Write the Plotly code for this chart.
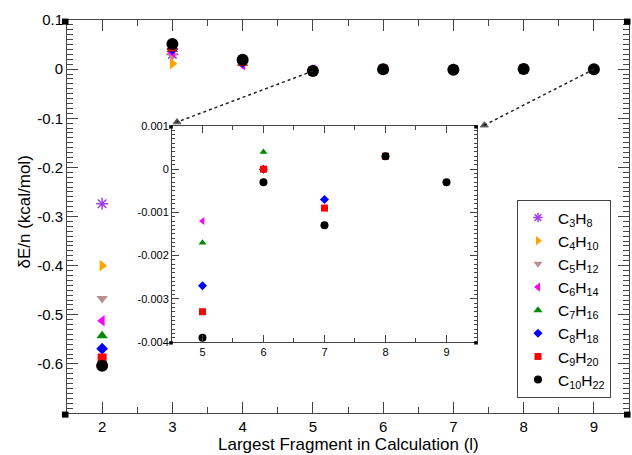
import plotly.graph_objects as go

# ---------------- data ----------------
series_names = ["C<sub>3</sub>H<sub>8</sub>", "C<sub>4</sub>H<sub>10</sub>", "C<sub>5</sub>H<sub>12</sub>",
                "C<sub>6</sub>H<sub>14</sub>", "C<sub>7</sub>H<sub>16</sub>", "C<sub>8</sub>H<sub>18</sub>",
                "C<sub>9</sub>H<sub>20</sub>", "C<sub>10</sub>H<sub>22</sub>"]

x_C3H8 = [2, 3]
y_C3H8 = [-0.274, 0.030]
x_C4H10 = [2, 3]
y_C4H10 = [-0.400, 0.011]
x_C5H12 = [2, 3, 4]
y_C5H12 = [-0.467, 0.027, 0.010]
x_C6H14 = [2, 3, 4, 5]
y_C6H14 = [-0.512, 0.034, 0.009, -0.0012]
x_C7H16 = [2, 3, 4, 5, 6]
y_C7H16 = [-0.543, 0.040, 0.012, -0.0017, 0.0004]
x_C8H18 = [2, 3, 4, 5, 6, 7]
y_C8H18 = [-0.569, 0.041, 0.014, -0.0027, 0.0000, -0.0007]
x_C9H20 = [2, 3, 4, 5, 6, 7, 8]
y_C9H20 = [-0.588, 0.045, 0.016, -0.0033, 0.0000, -0.0009, 0.0003]
x_C10H22 = [2, 3, 4, 5, 6, 7, 8, 9]
y_C10H22 = [-0.604, 0.051, 0.019, -0.0039, -0.0003, -0.0013, 0.0003, -0.0003]

main_xticks = [2, 3, 4, 5, 6, 7, 8, 9]
main_yticks = [0.1, 0, -0.1, -0.2, -0.3, -0.4, -0.5, -0.6]
main_yticktext = ["0.1", "0", "-0.1", "-0.2", "-0.3", "-0.4", "-0.5", "-0.6"]
inset_xticks = [5, 6, 7, 8, 9]
inset_yticks = [0.001, 0, -0.001, -0.002, -0.003, -0.004]
inset_yticktext = ["0.001", "0", "-0.001", "-0.002", "-0.003", "-0.004"]

x_title = "Largest Fragment in Calculation (l)"
y_title = "δE/n (kcal/mol)"

xs = [x_C3H8, x_C4H10, x_C5H12, x_C6H14, x_C7H16, x_C8H18, x_C9H20, x_C10H22]
ys = [y_C3H8, y_C4H10, y_C5H12, y_C6H14, y_C7H16, y_C8H18, y_C9H20, y_C10H22]

# ---------------- styles ----------------
symbols = ["asterisk-open", "triangle-right", "triangle-down", "triangle-left",
           "triangle-up", "diamond", "square", "circle"]
colors = ["#a040e8", "#ffa500", "#bc8f8f", "#ff00ff", "#008b00", "#0000ff", "#ff0000", "#000000"]
main_sizes = [10, 10, 10, 10, 10, 9, 9, 12]
inset_sizes = [7, 7, 7, 7, 7, 7, 7, 8]
legend_sizes = [8, 8, 8, 8, 8, 7, 7, 8]

FONT = "Liberation Sans, Arial, Helvetica, sans-serif"
AX = "#444444"

X0, X1 = 1.5, 9.5
Y0, Y1 = -0.7, 0.1
ix_dom = [0.1868, 0.7295]
iy_dom = [0.1807, 0.7303]
IX0, IX1 = 4.5, 9.5
IY0, IY1 = -0.004, 0.001

fig = go.Figure()

# main traces
for name, x, y, s, c, ms in zip(series_names, xs, ys, symbols, colors, main_sizes):
    fig.add_trace(go.Scatter(
        x=x, y=y, mode="markers", name=name, showlegend=False,
        marker=dict(symbol=s, color=c, size=ms, line=dict(width=1.5 if "asterisk" in s else 0, color=c)),
        xaxis="x", yaxis="y"))

# inset traces (points x >= 5)
for name, x, y, s, c, ms in zip(series_names, xs, ys, symbols, colors, inset_sizes):
    xi = [a for a in x if a >= 5]
    yi = [b for a, b in zip(x, y) if a >= 5]
    if xi:
        fig.add_trace(go.Scatter(
            x=xi, y=yi, mode="markers", name=name, showlegend=False,
            marker=dict(symbol=s, color=c, size=ms, line=dict(width=0)),
            xaxis="x2", yaxis="y2"))

# legend-only traces
for name, s, c, ms in zip(series_names, symbols, colors, legend_sizes):
    fig.add_trace(go.Scatter(
        x=[None], y=[None], mode="markers", name=name, showlegend=True,
        marker=dict(symbol=s, color=c, size=ms, line=dict(width=1.5 if "asterisk" in s else 0, color=c)),
        xaxis="x", yaxis="y"))

# dotted connector arrows (from main points to inset corners)
def to_main(px, py):
    return X0 + px * (X1 - X0), Y0 + py * (Y1 - Y0)

lx, ly = to_main(ix_dom[0] + 0.009, iy_dom[1] + 0.010)
rx, ry = to_main(ix_dom[1] + 0.013, iy_dom[1] + 0.002)
for (sx, sy), (ex, ey) in [((x_C10H22[3], y_C10H22[3]), (lx, ly)),
                           ((x_C10H22[7], y_C10H22[7]), (rx, ry))]:
    fig.add_trace(go.Scatter(
        x=[sx, ex], y=[sy, ey], mode="lines+markers", showlegend=False, hoverinfo="skip",
        line=dict(color="#222222", width=1.5, dash="dot"),
        marker=dict(symbol="triangle-up", size=[0, 7], color="#000000"),
        xaxis="x", yaxis="y"))

common_tick = dict(ticks="inside", showline=True, linecolor=AX, linewidth=1, tickcolor=AX,
                   mirror="allticks", showgrid=False, zeroline=False, automargin=False)

fig.update_layout(
    width=632, height=455,
    margin=dict(l=67, r=3, t=20, b=42),
    paper_bgcolor="white", plot_bgcolor="white",
    font=dict(family=FONT, color="black"),
    showlegend=True,
    legend=dict(x=0.8007, y=0.542, xanchor="left", yanchor="top",
                bordercolor=AX, borderwidth=1, bgcolor="white",
                font=dict(size=15.5, family=FONT), tracegroupgap=0, itemwidth=30),
    xaxis=dict(domain=[0, 1], range=[X0, X1], anchor="y",
               tickmode="array", tickvals=main_xticks, ticklen=11, tickwidth=1,
               tickfont=dict(size=15),
               minor=dict(dtick=0.5, ticklen=6, ticks="inside", tickcolor=AX),
               **common_tick),
    yaxis=dict(domain=[0, 1], range=[Y0, Y1], anchor="x",
               tickmode="array", tickvals=main_yticks, ticktext=main_yticktext, ticklen=11,
               tickfont=dict(size=15),
               minor=dict(dtick=0.01, ticklen=6, ticks="inside", tickcolor=AX),
               **common_tick),
    xaxis2=dict(domain=ix_dom, range=[IX0, IX1], anchor="y2",
                tickmode="array", tickvals=inset_xticks, ticklen=7,
                tickfont=dict(size=11),
                minor=dict(dtick=0.5, ticklen=4, ticks="inside", tickcolor=AX),
                **common_tick),
    yaxis2=dict(domain=iy_dom, range=[IY0, IY1], anchor="x2",
                tickmode="array", tickvals=inset_yticks, ticktext=inset_yticktext, ticklen=7,
                tickfont=dict(size=11),
                minor=dict(dtick=0.0001, ticklen=3, ticks="inside", tickcolor=AX),
                **common_tick),
    annotations=[
        dict(text=x_title, xref="paper", yref="paper", x=0.5, y=0, xanchor="center",
             yanchor="middle", yshift=-31, showarrow=False, font=dict(size=17, family=FONT)),
        dict(text=y_title, xref="paper", yref="paper", x=0, y=0.51, xanchor="center",
             yanchor="middle", xshift=-42, textangle=-90, showarrow=False,
             font=dict(size=17, family=FONT)),
    ],
)

# small corner squares (decorative frame markers)
shapes = []
for (px, py, sz) in [(0, 0, 0.009), (1, 0, 0.009), (0, 1, 0.009), (1, 1, 0.009),
                     (ix_dom[0], iy_dom[0], 0.005), (ix_dom[1], iy_dom[0], 0.005),
                     (ix_dom[0], iy_dom[1], 0.005), (ix_dom[1], iy_dom[1], 0.005)]:
    shapes.append(dict(type="rect", xref="paper", yref="paper",
                       x0=px - sz, x1=px + sz * 0.3, y0=py - sz * 1.3, y1=py + sz * 0.4,
                       fillcolor="black", line=dict(width=0)))
fig.update_layout(shapes=shapes)

fig.write_html("out.html", config={"displayModeBar": False},
               post_script="document.body.style.margin='0px';document.body.style.overflow='hidden';")
